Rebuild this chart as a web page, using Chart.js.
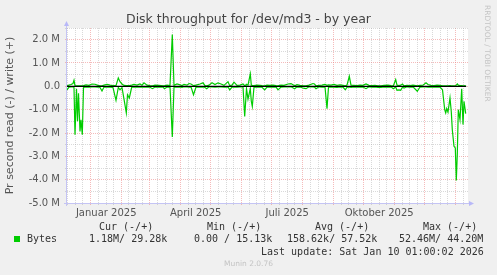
<!DOCTYPE html>
<html>
<head>
<meta charset="utf-8">
<script src="https://cdn.jsdelivr.net/npm/chart.js@4/dist/chart.umd.min.js"></script>
<style>
  body { margin: 0; background: #f0f0f0; }
  #wrap { position: relative; width: 497px; height: 275px; overflow: hidden; background: #f0f0f0; }
  #wrap canvas { position: absolute; left: 0; top: 0; }
  .title { position: absolute; left: 0; width: 497px; top: 11px; text-align: center; font-family: 'DejaVu Sans', sans-serif; font-size: 12.5px; line-height: 15px; color: #444; }
  .m { position: absolute; white-space: pre; font-family: 'DejaVu Sans Mono', monospace; font-size: 10px; line-height: 12px; color: #333; }
  .sq { position: absolute; left: 14px; top: 236px; width: 6px; height: 6px; background: #00cc00; }
  .munin { position: absolute; left: 0; width: 497px; top: 258px; text-align: center; font-family: 'DejaVu Sans', sans-serif; font-size: 7.5px; line-height: 12px; color: #c4c4c4; }
  .rrd { position: absolute; left: 483px; top: 5px; writing-mode: vertical-rl; font-family: 'DejaVu Sans', sans-serif; font-size: 7.5px; color: #c4c4c4; }
</style>
</head>
<body>
<div id="wrap">
  <canvas id="diskChart" width="497" height="275"></canvas>
  <div class="title">Disk throughput for /dev/md3 - by year</div>
  <div class="m" style="left:99px; top:221px;">Cur (-/+)</div>
  <div class="m" style="left:207px; top:221px;">Min (-/+)</div>
  <div class="m" style="left:315px; top:221px;">Avg (-/+)</div>
  <div class="m" style="left:423px; top:221px;">Max (-/+)</div>
  <div class="sq"></div>
  <div class="m" style="left:27px; top:233px;">Bytes</div>
  <div class="m" style="left:89px; top:233px;">1.18M/ 29.28k</div>
  <div class="m" style="left:194px; top:233px;">0.00 / 15.13k</div>
  <div class="m" style="left:287px; top:233px;">158.62k/ 57.52k</div>
  <div class="m" style="left:399px; top:233px;">52.46M/ 44.20M</div>
  <div class="m" style="left:261px; top:246px;">Last update: Sat Jan 10 01:00:02 2026</div>
  <div class="munin">Munin 2.0.76</div>
  <div class="rrd">RRDTOOL / TOBI OETIKER</div>
</div>
<script>
// Tage seit 1. Jan 2025
var days = [
    -23.7, -21.7, -19.7, -17.7, -16.7, -15.7, -14.2, -13.2, -12.2, -10.7, -9.7, -8.4, -7.2, -4.7, -1.7,
    1.3, 4.3, 7.3, 9.3, 11.3, 13.3, 16.3, 19.3, 22.3, 25.3, 27.6, 29.3, 31.3, 33.3, 35.6, 36.8, 38.6,
    41, 43.3, 46.3, 49.3, 51.3, 53.3, 56.3, 59.3, 61.8, 64.3, 68.3, 72.3, 73.8, 76.3, 79.3, 81.6,
    83.3, 86.3, 89.3, 91.3, 93.3, 96.3, 98.3, 100.3, 102.8, 105.3, 109.3, 112.3, 114.3, 116, 118.3,
    121.3, 124.3, 127.3, 130.3, 133.3, 137.3, 139, 141.3, 143.3, 146.3, 149.3, 152.3, 154, 155.8,
    157.3, 159.6, 160.6, 161.6, 163.3, 166.3, 169.3, 171.3, 174, 176.3, 179.3, 182.3, 185.3, 187.3,
    190.3, 193.3, 197.3, 200.3, 204, 206.3, 209.3, 212.8, 215.3, 218.3, 222.3, 223.8, 225.3, 228.3,
    231.3, 234.3, 236.3, 237.8, 240.3, 243.3, 246.3, 249.3, 252.3, 254.6, 256.3, 258.6, 260.3, 263.3,
    266.3, 269.3, 272.3, 275.3, 278.3, 281.3, 284.3, 287.3, 290.3, 293.3, 297.3, 300.3, 302.6, 305,
    306.3, 308.3, 310, 311.8, 313.3, 316.3, 319.3, 322.3, 326.6, 329.3, 332.3, 335.3, 337.3, 340.3,
    343.3, 346.3, 349.3, 351.8, 354, 355, 356, 357.3, 359.3, 360.6, 361.6, 363.3, 364.6, 365.6,
    366.6, 367.6, 369.3, 371, 372.3, 373.3, 375
];

// read (MB/s), wird negativ gezeichnet
var readM = [
    0.15, 0.03, 0.02, 0.02, 0.05, 2.07, 0.1, 1.5, 0.3, 1.93, 1.43, 2.07, 0.05, 0.02, 0.03,
    0.02, 0.02, 0.03, 0.05, 0.2, 0.03, 0.02, 0.04, 0.05, 0.6, 0.05, 0.15, 0.05, 0.55, 1.14, 0.36, 0.5,
    0.04, 0.02, 0.03, 0.02, 0.03, 0.02, 0.03, 0.04, 0.1, 0.03, 0.02, 0.03, 0.1, 0.03, 0.02, 2.17,
    0.03, 0.02, 0.03, 0.05, 0.02, 0.02, 0.03, 0.02, 0.36, 0.03, 0.02, 0.03, 0.05, 0.1, 0.02,
    0.02, 0.03, 0.02, 0.02, 0.03, 0.02, 0.15, 0.03, 0.02, 0.03, 0.02, 0.02, 1.29, 0.1,
    0.55, 0.1, 0.64, 0.86, 0.03, 0.02, 0.03, 0.04, 0.15, 0.03, 0.02, 0.03, 0.02, 0.15,
    0.03, 0.02, 0.02, 0.02, 0.1, 0.02, 0.03, 0.08, 0.1, 0.02, 0.02, 0.03, 0.1, 0.02,
    0.03, 0.02, 0.96, 0.03, 0.02, 0.03, 0.05, 0.02, 0.03, 0.15, 0.04, 0.03, 0.05, 0.02,
    0.03, 0.02, 0.03, 0.1, 0.02, 0.03, 0.02, 0.05, 0.05, 0.02, 0.03, 0.02, 0.1, 0.03,
    0.17, 0.15, 0.17, 0.03, 0.07, 0.02, 0.03, 0.02, 0.21, 0.03, 0.02, 0.02, 0.03, 0.02,
    0.03, 0.02, 0.03, 0.15, 1.0, 1.14, 0.95, 1.1, 0.5, 1.1, 1.86, 2.57, 2.64, 4.03,
    2.9, 1.0, 1.43, 0.1, 1.64, 0.64, 1.17
];

// write (MB/s)
var writeM = [
    0.02, 0.05, 0.08, 0.12, 0.26, 0.03, 0.02, 0.02, 0.02, 0.02, 0.02, 0.02, 0.03, 0.06, 0.04,
    0.1, 0.09, 0.04, 0.02, 0.02, 0.05, 0.08, 0.05, 0.03, 0.03, 0.36, 0.2, 0.1, 0.04, 0.03, 0.03, 0.03,
    0.05, 0.08, 0.05, 0.1, 0.05, 0.15, 0.05, 0.03, 0.02, 0.05, 0.04, 0.02, 0.02, 0.05, 0.03, 2.22,
    0.04, 0.1, 0.06, 0.03, 0.08, 0.05, 0.12, 0.1, 0.03, 0.05, 0.1, 0.15, 0.03, 0.02, 0.05,
    0.15, 0.08, 0.15, 0.1, 0.04, 0.2, 0.03, 0.05, 0.18, 0.04, 0.05, 0.1, 0.03, 0.08,
    0.05, 0.53, 0.05, 0.03, 0.03, 0.05, 0.04, 0.03, 0.02, 0.05, 0.04, 0.05, 0.03, 0.02,
    0.05, 0.04, 0.1, 0.12, 0.02, 0.07, 0.04, 0.02, 0.02, 0.05, 0.12, 0.1, 0.02, 0.04,
    0.05, 0.08, 0.04, 0.06, 0.05, 0.08, 0.04, 0.06, 0.04, 0.02, 0.05, 0.43, 0.05, 0.04,
    0.03, 0.05, 0.04, 0.1, 0.04, 0.03, 0.04, 0.02, 0.02, 0.04, 0.05, 0.03, 0.02, 0.29,
    0.05, 0.03, 0.05, 0.1, 0.02, 0.04, 0.03, 0.05, 0.02, 0.04, 0.05, 0.15, 0.08, 0.04,
    0.03, 0.05, 0.04, 0.02, 0.02, 0.02, 0.02, 0.02, 0.03, 0.02, 0.02, 0.02, 0.02, 0.05,
    0.1, 0.05, 0.03, 0.03, 0.02, 0.02, 0.03
];

// Monatsanfaenge (Tage seit 1. Jan 2025), Dez 2024 .. Feb 2026
var monthStarts = [-31, 0, 31, 59, 90, 120, 151, 181, 212, 243, 273, 304, 334, 365, 396];
var xLabelMonths = [0, 90, 181, 273];
var xLabels = ['Januar 2025', 'April 2025', 'Juli 2025', 'Oktober 2025'];

var X_MIN = -23.7;
var X_MAX = 377.3;

var MAJOR = 'rgba(235, 120, 120, 0.5)';
var MINOR = 'rgba(160, 160, 160, 0.4)';
var GREEN = '#00cc00';
var FONT = 'DejaVu Sans';

// Gitter: Monatsanfang (rot), Viertel (grau), Beschriftung in Monatsmitte
var xTicks = [];
for (var i = 0; i < monthStarts.length - 1; i++) {
    var s = monthStarts[i];
    var len = monthStarts[i + 1] - s;
    for (var q = 0; q < 4; q++) {
        var v = s + len * q / 4;
        if (v < X_MIN || v > X_MAX) continue;
        var li = xLabelMonths.indexOf(s);
        xTicks.push({
            value: v,
            major: q === 0,
            label: (q === 2 && li >= 0) ? xLabels[li] : ''
        });
    }
}

function isWhole(v) {
    return Math.abs(v - Math.round(v)) < 1e-9;
}

var rrdPlugin = {
    id: 'rrdLook',
    beforeDraw: function (chart) {
        var ctx = chart.ctx, a = chart.chartArea;
        ctx.save();
        ctx.fillStyle = '#ffffff';
        ctx.fillRect(a.left, a.top, a.right - a.left, a.bottom - a.top);
        ctx.restore();
    },
    afterDraw: function (chart) {
        var ctx = chart.ctx, a = chart.chartArea;
        var x0 = Math.round(a.left) - 0.5, y0 = Math.round(a.bottom) + 0.5;
        ctx.save();
        ctx.strokeStyle = '#c4c4f4';
        ctx.fillStyle = '#b8b8f8';
        ctx.lineWidth = 1;
        ctx.beginPath();
        ctx.moveTo(x0, a.bottom + 3);
        ctx.lineTo(x0, a.top - 3);
        ctx.moveTo(a.left - 3, y0);
        ctx.lineTo(a.right + 3, y0);
        ctx.stroke();
        // Pfeile
        ctx.beginPath();
        ctx.moveTo(x0 - 2.5, a.top - 2);
        ctx.lineTo(x0 + 2.5, a.top - 2);
        ctx.lineTo(x0, a.top - 7);
        ctx.closePath();
        ctx.fill();
        ctx.beginPath();
        ctx.moveTo(a.right + 1, y0 - 2.5);
        ctx.lineTo(a.right + 1, y0 + 2.5);
        ctx.lineTo(a.right + 6, y0);
        ctx.closePath();
        ctx.fill();
        ctx.restore();
    }
};

function createDiskChart() {
    var canvas = document.getElementById('diskChart').getContext('2d');

    new Chart(canvas, {
        type: 'line',
        data: {
            datasets: [{
                label: 'zero',
                data: [{ x: X_MIN, y: 0 }, { x: 375.5, y: 0 }],
                borderColor: '#000000',
                borderWidth: 1.3,
                pointRadius: 0,
                order: 0
            }, {
                label: 'write',
                data: days.map(function (d, i) { return { x: d, y: writeM[i] }; }),
                borderColor: GREEN,
                borderWidth: 1.2,
                pointRadius: 0,
                tension: 0,
                order: 1
            }, {
                label: 'read',
                data: days.map(function (d, i) { return { x: d, y: -readM[i] }; }),
                borderColor: GREEN,
                borderWidth: 1.2,
                pointRadius: 0,
                tension: 0,
                order: 1
            }]
        },
        options: {
            responsive: false,
            animation: false,
            devicePixelRatio: 1,
            layout: { padding: { left: 0, right: 29, top: 28, bottom: 52 } },
            plugins: {
                legend: { display: false },
                tooltip: { enabled: false },
                title: { display: false }
            },
            scales: {
                x: {
                    type: 'linear',
                    min: X_MIN,
                    max: X_MAX,
                    afterBuildTicks: function (scale) {
                        scale.ticks = xTicks.map(function (t) { return { value: t.value }; });
                    },
                    afterFit: function (scale) { scale.height = 20; },
                    ticks: {
                        autoSkip: false,
                        maxRotation: 0,
                        padding: 2,
                        color: '#555',
                        font: { family: FONT, size: 10 },
                        callback: function (value, index) { return xTicks[index] ? xTicks[index].label : ''; }
                    },
                    grid: {
                        color: function (c) { return xTicks[c.index] && xTicks[c.index].major ? MAJOR : MINOR; },
                        tickLength: 2
                    },
                    border: { display: false, dash: [1, 1] }
                },
                y: {
                    min: -5,
                    max: 2.5,
                    afterFit: function (scale) { scale.width = 67; },
                    ticks: {
                        stepSize: 0.5,
                        autoSkip: false,
                        padding: 5,
                        color: '#555',
                        font: { family: FONT, size: 10 },
                        callback: function (value) {
                            if (!isWhole(value)) return '';
                            return value === 0 ? '0.0' : value.toFixed(1) + ' M';
                        }
                    },
                    grid: {
                        color: function (c) { return c.tick && isWhole(c.tick.value) ? MAJOR : MINOR; },
                        tickLength: 2
                    },
                    border: { display: false, dash: [1, 1] },
                    title: {
                        display: true,
                        text: 'Pr second read (-) / write (+)',
                        color: '#555',
                        font: { family: FONT, size: 11 },
                        padding: { top: 4, bottom: 0 }
                    }
                }
            }
        },
        plugins: [rrdPlugin]
    });
}

createDiskChart();
</script>
</body>
</html>
